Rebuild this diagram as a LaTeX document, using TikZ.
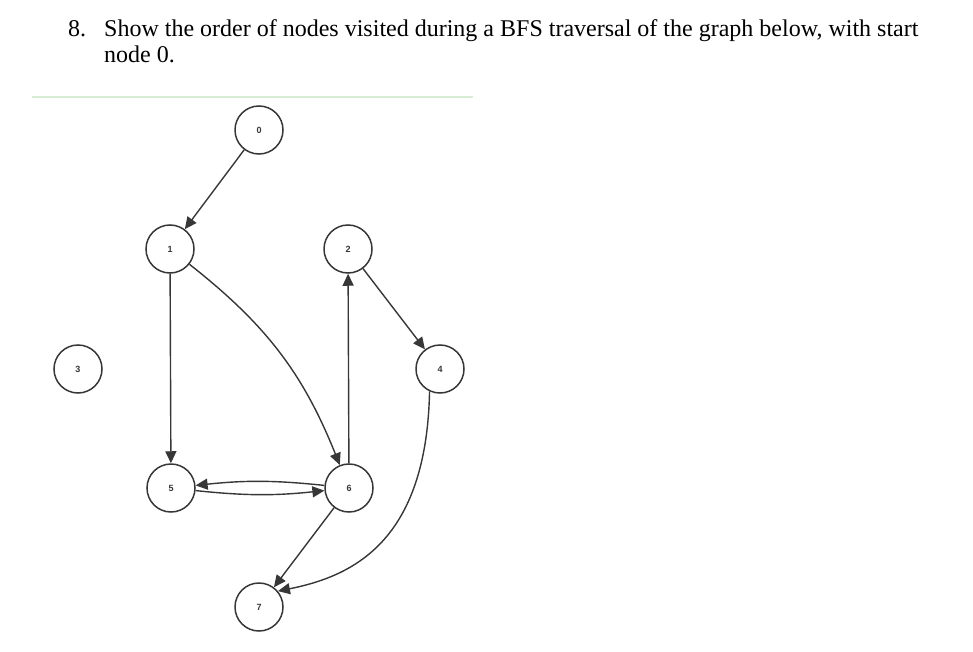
\documentclass[tikz,border=0pt]{standalone}
\usepackage{fontspec}
\setmainfont{Liberation Serif}
\newfontfamily\labelfont{Liberation Sans}
\usetikzlibrary{arrows.meta}
\definecolor{edgegray}{RGB}{55,55,55}
\definecolor{rulegreen}{RGB}{216,236,214}
\begin{document}
\begin{tikzpicture}[x=1pt,y=-1pt,
  vtx/.style={circle,draw=edgegray,line width=1.5pt,minimum size=48pt,inner sep=0pt,fill=white,font=\labelfont\bfseries\fontsize{9}{9}\selectfont,text=edgegray},
  edge/.style={draw=edgegray,line width=1.4pt,-{Triangle[length=12pt,width=11pt]}},
  qtext/.style={anchor=base west,inner sep=0pt,font=\fontsize{24}{26}\selectfont}]
\useasboundingbox (0,0) rectangle (973,652);
\node[qtext] (num) at (68,37) {8.};
\node[qtext] (q1) at (104,37) {Show the order of nodes visited during a BFS traversal of the graph below, with start};
\node[qtext] (q2) at (104,63) {node 0.};
\coordinate (gl) at (32,97);
\coordinate (gr) at (473,97);
\draw[rulegreen,line width=2pt] (gl) -- (gr);
\node[vtx] (n0) at (259,130) {0};
\node[vtx] (n1) at (170,249) {1};
\node[vtx] (n2) at (348,249) {2};
\node[vtx] (n3) at (78,369) {3};
\node[vtx] (n4) at (440,369) {4};
\node[vtx] (n5) at (171,488) {5};
\node[vtx] (n6) at (349,488) {6};
\node[vtx] (n7) at (259,607) {7};
\path[edge] (n0) -- (n1);
\path[edge] (n1) -- (n5);
\path[edge] (n1) to[bend left=15] (n6);
\path[edge] (n6) -- (n2);
\path[edge] (n2) -- (n4);
\path[edge] (n4.-115) .. controls +(-3,150) and +(75,-15) .. (n7.40);
\path[edge] (n6) -- (n7);
\path[edge] (n5) to[bend right=6] (n6);
\path[edge] (n6) to[bend right=6] (n5);
\end{tikzpicture}
\end{document}
